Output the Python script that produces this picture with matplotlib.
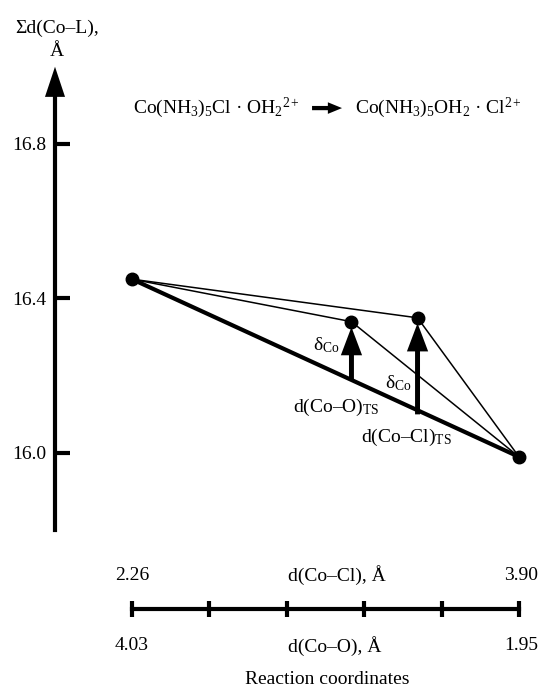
import matplotlib
matplotlib.use("Agg")
import matplotlib.pyplot as plt
import numpy as np

plt.rcParams['font.family'] = ['Liberation Serif', 'DejaVu Serif']
plt.rcParams['mathtext.fontset'] = 'custom'
plt.rcParams['mathtext.rm'] = 'Liberation Serif'
plt.rcParams['mathtext.it'] = 'Liberation Serif:italic'
plt.rcParams['mathtext.bf'] = 'Liberation Serif:bold'

# points: reactant, two transition states, product
# x in d(Co-Cl) units, y = sum of Co-L distances
pt_x = [2.26, 3.19, 3.47, 3.90]
pt_y = [16.45, 16.34, 16.35, 15.99]
# where the delta arrows start (on the thick line)
ts_base = [16.19, 16.10]

# y axis ticks
y_ticks = [16.0, 16.4, 16.8]
# reaction coordinate scale
cl_ends = ['2.26', '3.90']
o_ends = ['4.03', '1.95']
n_ticks = 6

W, H = 538, 691
fig = plt.figure(figsize=(W / 100, H / 100), dpi=100)


def fx(px):
    return px / W


def fy(py):
    return 1 - py / H


# main axes, left spine is the vertical axis
ax = fig.add_axes([fx(55), 0, 1 - fx(55), 1])
ax.set_xlim(1.9337, 3.9805)
ax.set_ylim(15.3838, 17.1728)
for s in ['top', 'right', 'bottom']:
    ax.spines[s].set_visible(False)
ax.spines['left'].set_linewidth(3)
ax.spines['left'].set_bounds(15.80, 16.93)
ax.set_xticks([])
ax.set_yticks(y_ticks)
ax.set_yticklabels([f'{v:.1f}' for v in y_ticks])
ax.tick_params(axis='y', direction='in', length=11, width=3, pad=6, labelsize=14)
ax.patch.set_visible(False)

# arrowhead on the vertical axis
ax.arrow(1.9337, 16.92, 0, 0.08, width=0.012, head_width=0.085, head_length=0.078,
         length_includes_head=True, color='black', clip_on=False, lw=0)

# lines
ax.plot([pt_x[0], pt_x[3]], [pt_y[0], pt_y[3]], color='black', lw=3, solid_capstyle='round')
for i in (1, 2):
    ax.plot([pt_x[0], pt_x[i], pt_x[3]], [pt_y[0], pt_y[i], pt_y[3]], color='black', lw=1.1)
ax.plot(pt_x, pt_y, 'o', color='black', ms=9, zorder=5)

# delta arrows
for i, b in zip((1, 2), ts_base):
    ax.arrow(pt_x[i], b, 0, pt_y[i] - b - 0.014, width=0.021, head_width=0.09,
             head_length=0.073, length_includes_head=True, color='black', lw=0, zorder=4)

fs = 14
ax.text(3.141, 16.280, r'δ$_{\mathrm{Co}}$', ha='right', va='center', fontsize=fs)
ax.text(3.447, 16.181, r'δ$_{\mathrm{Co}}$', ha='right', va='center', fontsize=fs)
ax.text(3.311, 16.119, r'd(Co–O)$_{\mathrm{TS}}$', ha='right', va='center', fontsize=fs)
ax.text(3.616, 16.039, r'd(Co–Cl)$_{\mathrm{TS}}$', ha='right', va='center', fontsize=fs)

# reaction equation
fig.text(fx(133), fy(108), r'Co(NH$_{\mathrm{3}}$)$_{\mathrm{5}}$Cl · OH$_{\mathrm{2}}$$^{\mathrm{2+}}$',
         ha='left', va='center', fontsize=fs)
fig.text(fx(355), fy(108), r'Co(NH$_{\mathrm{3}}$)$_{\mathrm{5}}$OH$_{\mathrm{2}}$ · Cl$^{\mathrm{2+}}$',
         ha='left', va='center', fontsize=fs)
ax.arrow(3.023, 16.893, 0.127, 0, width=0.011, head_width=0.03, head_length=0.06,
         length_includes_head=True, color='black', lw=0)

# y label
fig.text(fx(57), fy(28), 'Σd(Co–L),', ha='center', va='center', fontsize=fs)
fig.text(fx(57), fy(52), 'Å', ha='center', va='center', fontsize=fs)

# reaction coordinate scale
ax2 = fig.add_axes([fx(132), fy(609), fx(519) - fx(132), 10 / H])
ax2.set_xlim(2.26, 3.90)
for s in ['top', 'right', 'left']:
    ax2.spines[s].set_visible(False)
ax2.spines['bottom'].set_linewidth(3)
ax2.set_yticks([])
ax2.set_xticks(np.linspace(2.26, 3.90, n_ticks))
ax2.tick_params(axis='x', direction='inout', length=12, width=3, labelbottom=False)
ax2.patch.set_visible(False)

fig.text(fx(132), fy(575), cl_ends[0], ha='center', va='center', fontsize=fs)
fig.text(fx(521), fy(575), cl_ends[1], ha='center', va='center', fontsize=fs)
fig.text(fx(132), fy(646), o_ends[0], ha='center', va='center', fontsize=fs)
fig.text(fx(521), fy(646), o_ends[1], ha='center', va='center', fontsize=fs)
fig.text(fx(288), fy(575), 'd(Co–Cl), Å', ha='left', va='center', fontsize=fs)
fig.text(fx(288), fy(646), 'd(Co–O), Å', ha='left', va='center', fontsize=fs)
fig.text(fx(327), fy(680), 'Reaction coordinates', ha='center', va='center', fontsize=fs)

fig.savefig('out.png', dpi=100)
